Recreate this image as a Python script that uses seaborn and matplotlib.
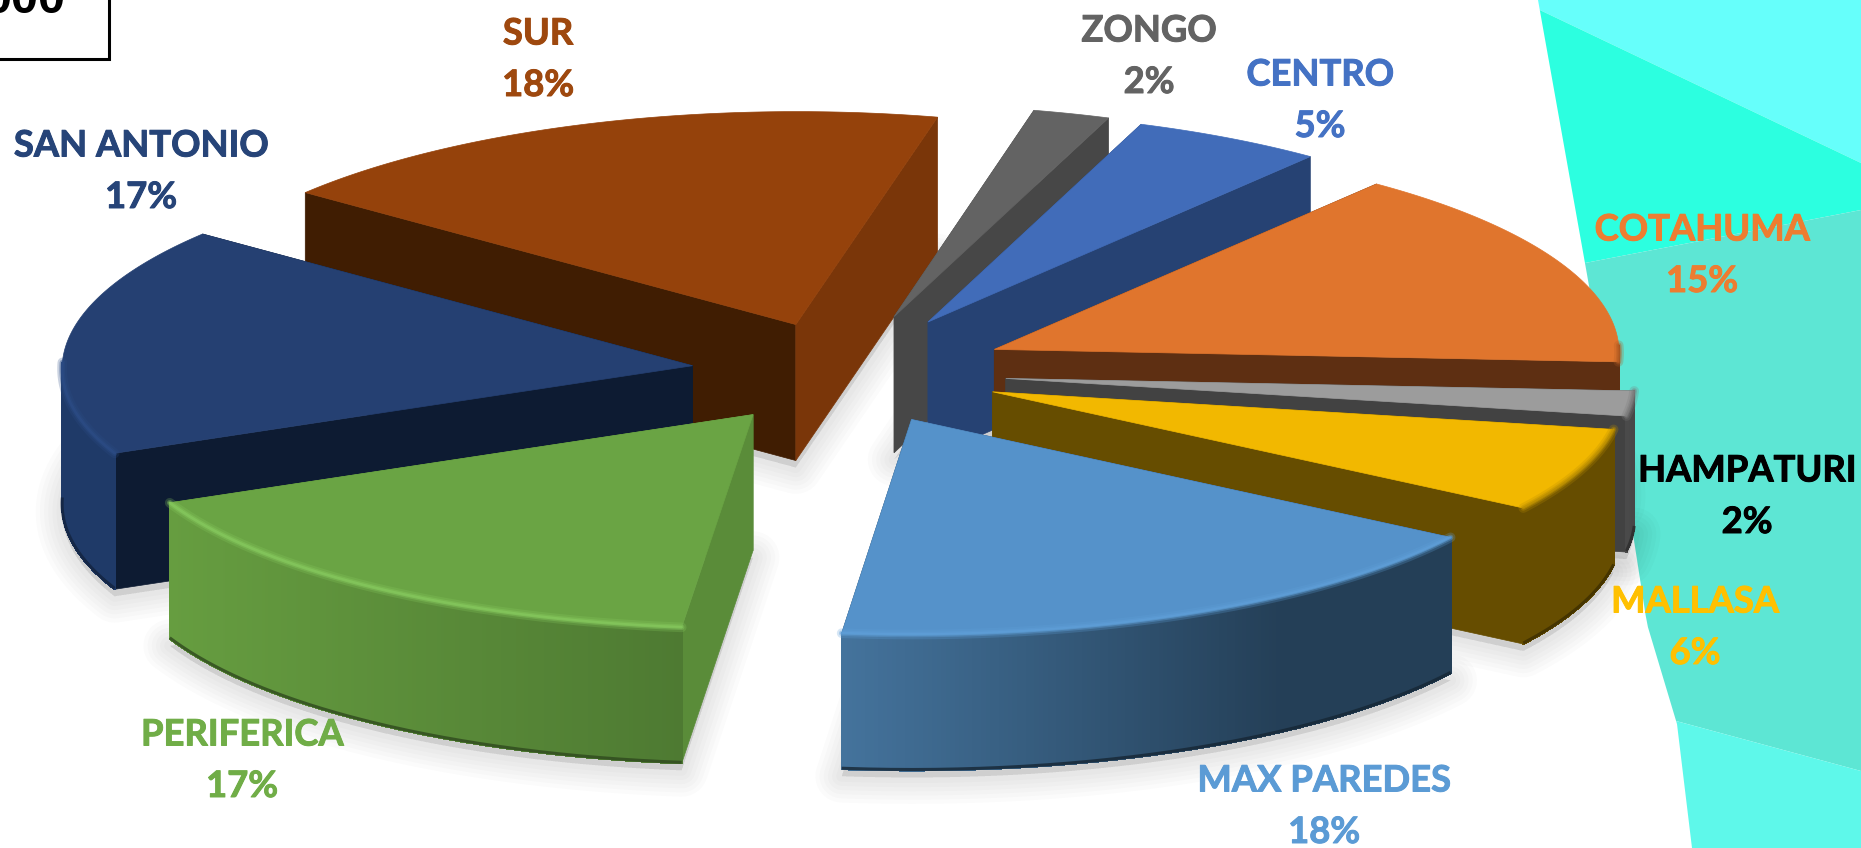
import numpy as np
import matplotlib
matplotlib.use("Agg")
import matplotlib.pyplot as plt
import matplotlib.patheffects as pe
from matplotlib.colors import to_rgb
from matplotlib.patches import Polygon, Rectangle
import seaborn as sns

# --- data (clockwise from the first slice) -------------------------------
zones = ["SUR", "ZONGO", "CENTRO", "COTAHUMA", "HAMPATURI", "MALLASA",
         "MAX PAREDES", "PERIFERICA", "SAN ANTONIO"]
shares = [18.0, 2.0, 5.0, 15.3, 1.9, 6.4, 17.5, 16.5, 17.4]
printed = [18, 2, 5, 15, 2, 6, 18, 17, 17]

# --- styles --------------------------------------------------------------
top_colors = ["#95420B", "#636363", "#416CB9", "#E0752D", "#9C9C9C",
              "#F2B800", "#5592CA", "#6AA444", "#254072"]
cut_start = ["#401D02", "#474747", "#264273", "#5E2F12", "#424242",
             "#664D00", "#264273", "#5A8C39", "#0D1B32"]
cut_end = ["#7A3609", "#474747", "#264273", "#5E2F12", "#424242",
           "#664D00", "#243F57", "#5A8C39", "#0D1B32"]
rim_left = ["#7A3609", "#474747", "#264273", "#5E2F12", "#4A4A4A",
            "#664D00", "#44739C", "#669D40", "#1F3A68"]
rim_right = ["#7A3609", "#474747", "#264273", "#5E2F12", "#474747",
             "#664D00", "#243F57", "#4E7A32", "#1F3A68"]
rim_stop = [1, 1, 1, 1, 1, 1, 0.72, 1, 1]
bevel = ["#95420B", "#636363", "#416CB9", "#B05A22", "#7A7A7A",
         "#B88C00", "#5F9FD8", "#86C95E", "#2C4C85"]
label_colors = ["#9E480E", "#636363", "#4472C4", "#ED7D31", "#000000",
                "#FFC000", "#5B9BD5", "#70AD47", "#264478"]
explode = [0.235, 0.27, 0.268, 0.258, 0.255, 0.25, 0.245, 0.246, 0.242]
radius_scale = [0.995, 0.99, 0.985, 0.985, 0.99, 0.99, 1.005, 1, 0.993]
label_x = [538, 1149, 1320, 1702, 1747, 1695, 1324, 242, 141]
label_y = [31, 28, 72, 227, 468, 599, 778, 732, 143]
draw_order = [0, 1, 2, 3, 4, 5, 8, 7, 6]

W, H = 1861, 848
CX, CY = 845, 372
R = 635
TILT = 0.337
PERSP = 0.012
DEPTH = 136
START = 141.7

sns.set_theme(style="white")
plt.rcParams["font.family"] = ["Lato", "DejaVu Sans"]
palette = sns.color_palette(top_colors)

fig = plt.figure(figsize=(W / 100, H / 100), dpi=100, facecolor="white")
ax = fig.add_axes([0, 0, 1, 1])
ax.set_xlim(0, W)
ax.set_ylim(H, 0)
ax.axis("off")
sns.despine(ax=ax, left=True, bottom=True)

# --- decorative backdrop on the right ------------------------------------
edge = [(1538, 0), (1588, 280), (1612, 420), (1633, 534), (1647, 624),
        (1677, 724), (1692, 848)]
ex = np.array([p[0] for p in edge], float)
ey = np.array([p[1] for p in edge], float)


def left_edge(y):
    return np.interp(y, ey, ex)


def band(y_left0, y_right0, y_left1, y_right1, color):
    ys = np.linspace(y_left0, y_left1, 40)
    pts = [(left_edge(y), y) for y in ys] + [(W, y_right1), (W, y_right0)]
    ax.add_patch(Polygon(pts, closed=True, fc=color, ec="none", zorder=1))


band(0, 0, 10, 163, "#66FFFB")
band(10, 163, 263, 210, "#2CFFE0")
band(263, 210, 721, 771, "#5DE6D4")
band(721, 771, 848, 848, "#5EF8EA")


# --- geometry driven by the shares ---------------------------------------
def project(theta, radius, offset):
    x = offset * np.cos(offset_dir) + radius * np.cos(theta)
    y = offset * np.sin(offset_dir) + radius * np.sin(theta)
    s = 1.0 / (1.0 + PERSP * y / R)
    return CX + x * s, CY - TILT * y


edges = START - np.cumsum([0] + shares) * 3.6
slices = []
for i in range(len(zones)):
    a0, a1 = np.radians(edges[i]), np.radians(edges[i + 1])
    offset_dir = (a0 + a1) / 2
    off = explode[i] * R
    th = np.linspace(a0, a1, 160)
    rx, ry = project(th, R * radius_scale[i], off)
    ax0, ay0 = project(0.0, 0.0, off)
    slices.append(dict(th=th, rx=rx, ry=ry, ax=ax0, ay=ay0))

# soft shadow under every slice
for s in slices:
    px = np.r_[s["ax"], s["rx"]]
    py = np.r_[s["ay"], s["ry"]] + DEPTH + 7
    for lw, alpha in zip([38, 32, 26, 20, 14, 8], [0.017] * 6):
        ax.add_patch(Polygon(np.c_[px, py], closed=True, fc=(0, 0, 0, alpha),
                             ec=(0, 0, 0, alpha), lw=lw, joinstyle="round", zorder=2))


def wall(x0, y0, x1, y1, color, z):
    ax.add_patch(Polygon([(x0, y0), (x1, y1), (x1, y1 + DEPTH), (x0, y0 + DEPTH)],
                         closed=True, fc=color, ec=color, lw=0.5, zorder=z))


for rank, i in enumerate(draw_order):
    s = slices[i]
    z = 3 + rank
    rx, ry, th = s["rx"], s["ry"], s["th"]
    wall(s["ax"], s["ay"], rx[0], ry[0], cut_start[i], z)
    wall(s["ax"], s["ay"], rx[-1], ry[-1], cut_end[i], z)

    front = np.sin(th) < 0.02
    if front.any():
        fx, fy = rx[front], ry[front]
        xmin, xmax = fx.min(), fx.max()
        c0, c1 = np.array(to_rgb(rim_left[i])), np.array(to_rgb(rim_right[i]))
        for j in range(len(fx) - 1):
            t = min(1.0, ((fx[j] + fx[j + 1]) / 2 - xmin) / max(xmax - xmin, 1) / rim_stop[i])
            col = tuple(c0 + (c1 - c0) * t)
            ax.add_patch(Polygon([(fx[j], fy[j]), (fx[j + 1], fy[j + 1]),
                                  (fx[j + 1], fy[j + 1] + DEPTH), (fx[j], fy[j] + DEPTH)],
                                 closed=True, fc=col, ec=col, lw=0.8, zorder=z,
                                 antialiased=False))
        dark = tuple(np.minimum(c0, c1) * 0.6)
        ax.plot(fx, fy + DEPTH - 1, color=dark, lw=2.2, alpha=0.8, zorder=z,
                solid_capstyle="butt")

    ax.add_patch(Polygon(np.c_[np.r_[s["ax"], rx], np.r_[s["ay"], ry]], closed=True,
                         fc=palette[i], ec=palette[i], lw=0.5, zorder=z))

    if front.any():
        for lw, alpha in zip([7, 4, 2], [0.25, 0.4, 0.7]):
            ax.plot(fx, fy, color=bevel[i], lw=lw, alpha=alpha, zorder=z,
                    solid_capstyle="round")

# --- labels --------------------------------------------------------------
FONT = 26.2
for i, zone in enumerate(zones):
    effect = [pe.withStroke(linewidth=0.7, foreground=label_colors[i])]
    ax.text(label_x[i], label_y[i] + 13.5, zone, color=label_colors[i], fontsize=FONT,
            fontweight="bold", ha="center", va="baseline", zorder=30, path_effects=effect)
    ax.text(label_x[i], label_y[i] + 65, f"{printed[i]}%", color=label_colors[i], fontsize=FONT,
            fontweight="bold", ha="center", va="baseline", zorder=30, path_effects=effect)

# --- clipped title box in the top left corner ----------------------------
ax.add_patch(Rectangle((-6, -6), 115, 64.5, fc="white", ec="black", lw=2.2, zorder=31))
ax.text(65, 13, "000", color="black", fontsize=35, fontweight="bold",
        family=["Liberation Sans", "DejaVu Sans"], ha="right", va="baseline", zorder=32)

fig.savefig("out.png", dpi=100, facecolor="white")
